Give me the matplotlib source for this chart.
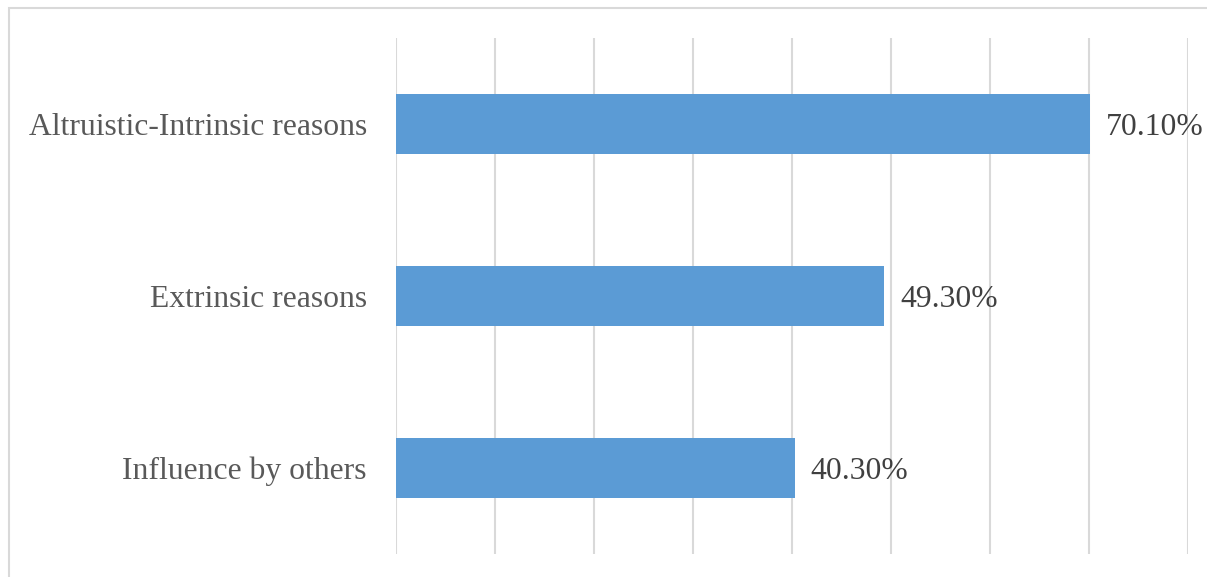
import matplotlib.pyplot as plt
from matplotlib.patches import Rectangle

categories = ["Influence by others", "Extrinsic reasons", "Altruistic-Intrinsic reasons"]
values = [40.3, 49.3, 70.1]
value_labels = ["40.30%", "49.30%", "70.10%"]

plt.rcParams['font.family'] = ['Liberation Serif', 'DejaVu Serif']

W, H = 1207, 577
fig = plt.figure(figsize=(W/100, H/100), dpi=100)

# cadre gris clair (coupé à droite et en bas)
fig.patches.append(Rectangle((9/W, -0.05), 1.2, 1 - 8/H + 0.05, transform=fig.transFigure,
	fill=False, edgecolor='#d9d9d9', linewidth=1.5))

ax = fig.add_axes([396/W, 1 - 554/H, (1188-396)/W, (554-38)/H])
ax.barh(range(len(categories)), values, height=0.35, color='#5b9bd5')
ax.set_xlim(0, 80)
ax.set_ylim(-0.5, 2.5)
ax.set_xticks(range(0, 81, 10))
ax.xaxis.grid(True, color='#d9d9d9', linewidth=1.5)
ax.set_axisbelow(True)
ax.tick_params(axis='x', length=0, labelbottom=False)
ax.tick_params(axis='y', length=0, pad=21, labelsize=22.8, labelcolor='#595959')
ax.set_yticks(range(len(categories)))
ax.set_yticklabels(categories)
for s in ax.spines.values():
	s.set_visible(False)

for i, v in enumerate(values):
	ax.text(v + 1.6, i - 0.02, value_labels[i], va='center', ha='left', fontsize=22.8, color='#404040')

fig.savefig('out.png', dpi=100)
